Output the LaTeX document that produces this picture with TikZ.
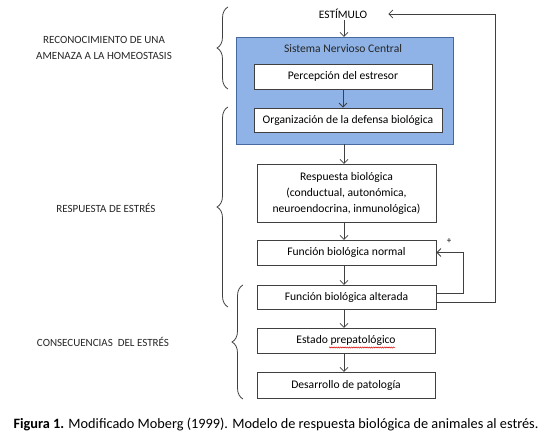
\documentclass[tikz,border=0pt]{standalone}
\usepackage{fontspec}
\setmainfont{Carlito}
\usetikzlibrary{arrows.meta,decorations.pathreplacing,decorations.pathmorphing,calc}
\definecolor{snfill}{RGB}{143,179,230}
\definecolor{snborder}{RGB}{70,105,160}
\definecolor{linec}{RGB}{64,64,64}
\tikzset{
  box/.style={draw=linec, line width=0.8pt, fill=white, rectangle, inner sep=2pt, align=center, font=\fontsize{11.6}{16}\selectfont},
  arr/.style={draw=linec, line width=0.8pt, -{Straight Barb[length=4pt,width=8pt]}},
  lab/.style={font=\fontsize{11}{16.5}\selectfont, align=center, text=black!85},
  brc/.style={draw=linec, line width=0.8pt, decorate, decoration={brace, amplitude=11pt}},
}
\begin{document}
\begin{tikzpicture}[x=1pt,y=-1pt]
\useasboundingbox (0,0) rectangle (542,446);
% Stimulus
\node[font=\fontsize{11.4}{12}\selectfont, inner sep=1pt] (est) at (343,14) {ESTÍMULO};
% Central nervous system box
\node[draw=snborder, line width=0.9pt, fill=snfill, minimum width=217pt, minimum height=107pt, inner sep=0pt] (snc) at (344.5,90.5) {};
\node[font=\fontsize{11.6}{12}\selectfont, text=black!85] (snct) at (343,49) {Sistema Nervioso Central};
\node[box, minimum width=178pt, minimum height=25pt] (perc) at (343,76.5) {Percepción del estresor};
\node[box, minimum width=188pt, minimum height=24pt] (org) at (348,120) {Organización de la defensa biológica};
% Response chain
\node[box, minimum width=179pt, minimum height=58pt] (resp) at (346.5,193) {Respuesta biológica\\(conductual, autonómica,\\neuroendocrina, inmunológica)};
\node[box, minimum width=179pt, minimum height=25pt] (norm) at (346.5,252.5) {Función biológica normal};
\node[box, minimum width=179pt, minimum height=24pt] (alt) at (346.5,297) {Función biológica alterada};
\node[box, minimum width=178pt, minimum height=25pt] (estado) at (346,340.5) {Estado prepatológico};
\node[box, minimum width=178pt, minimum height=26pt] (des) at (346,385) {Desarrollo de patología};
% spell-check squiggle
\draw[red!85!black, line width=0.5pt, decorate, decoration={snake, amplitude=0.6pt, segment length=2.2pt}] (329,347.5) -- (395,347.5);
% Vertical arrows
\draw[arr] (344,20) -- (344,37);
\draw[arr] (perc.south) -- (perc.south |- org.north);
\draw[arr] (344,144) -- (344,164);
\draw[arr] (344,222) -- (344,240);
\draw[arr] (344,265) -- (344,285);
\draw[arr] (344,309) -- (344,328);
\draw[arr] (344,353) -- (344,372);
% Feedback loops
\draw[arr] ([yshift=4pt]alt.east) -- ++(27,0) |- (norm.east);
\node[font=\fontsize{9}{10}\selectfont] (plus) at (449,241) {+};
\draw[arr] ([yshift=-5pt]alt.east) -- ++(59,0) |- ([xshift=20pt]est.east);
% Braces
\draw[brc] (228,89) -- (228,7);
\draw[brc] (228,307) -- (228,107);
\draw[brc] (243,399) -- (243,285);
% Brace labels
\node[lab] (l1) at (104,48) {RECONOCIMIENTO DE UNA\\AMENAZA A LA HOMEOSTASIS};
\node[lab] (l2) at (106,208) {RESPUESTA DE ESTRÉS};
\node[lab] (l3) at (103,342) {CONSECUENCIAS\ \ DEL ESTRÉS};
% Caption
\node[font=\fontsize{14.3}{16}\selectfont] (cap) at (276,425) {\textbf{Figura 1.} Modificado Moberg (1999). Modelo de respuesta biológica de animales al estrés.};
\end{tikzpicture}
\end{document}
